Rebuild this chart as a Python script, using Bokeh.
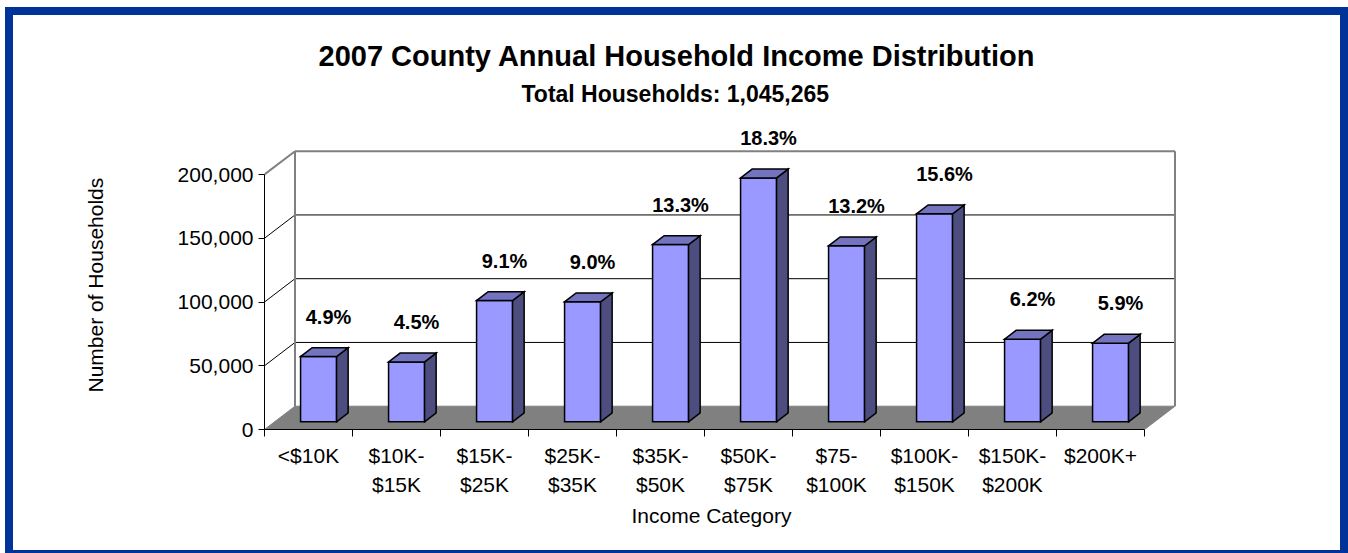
from bokeh.plotting import figure
from bokeh.models import Range1d, FixedTicker, NumeralTickFormatter, Title
from bokeh.embed import file_html
from bokeh.resources import INLINE
from bokeh.core.properties import value

# ---------------- data ----------------
categories = ["<$10K", "$10K-\n$15K", "$15K-\n$25K", "$25K-\n$35K", "$35K-\n$50K",
              "$50K-\n$75K", "$75-\n$100K", "$100K-\n$150K", "$150K-\n$200K", "$200K+"]
households = [51200, 47000, 95100, 94100, 139000, 191300, 138000, 163100, 64800, 61700]
pct_labels = ["4.9%", "4.5%", "9.1%", "9.0%", "13.3%", "18.3%", "13.2%", "15.6%", "6.2%", "5.9%"]
y_ticks = [0, 50000, 100000, 150000, 200000]

title_text = "2007 County Annual Household Income Distribution"
subtitle_text = "Total Households: 1,045,265"
x_title = "Income Category"
y_title = "Number of Households"

# ---------------- geometry (pixels -> data) ----------------
FONT = "Liberation Sans"
N = len(categories)
PX_PER_CAT = 88.0
PX_PER_Y = 255.0 / 200000.0
FRAME_W, FRAME_H = 926, 309
DX = 30.5 / PX_PER_CAT          # depth offset (x) of back wall
DY = 23.3 / PX_PER_Y            # depth offset (y) of back wall
F0, F1 = 0.33, 0.71             # bar front/back depth fractions
HW = 18.0 / PX_PER_CAT          # bar half width
LBL_DX = 20.0 / PX_PER_CAT
LBL_DY = 40.0 / PX_PER_Y
YMAX = y_ticks[-1]

p = figure(width=1327, height=535, title=None, toolbar_location=None,
           output_backend="svg",
           x_range=Range1d(0, FRAME_W / PX_PER_CAT),
           y_range=Range1d(0, FRAME_H / PX_PER_Y),
           min_border_left=251, min_border_right=166,
           min_border_top=105, min_border_bottom=132)
p.background_fill_color = "white"
p.border_fill_color = "white"
p.outline_line_color = None
p.xgrid.visible = False
p.ygrid.visible = False
p.styles = {"box-sizing": "content-box", "border-style": "solid",
            "border-color": "#003399", "border-width": "8px 8px 3px 8px",
            "margin-left": "5px", "margin-top": "7px"}

# floor
p.patch([0, N, N + DX, DX], [0, 0, DY, DY], fill_color="#808080", line_color="#808080")

# back-wall gridlines
inner = y_ticks[1:-1]
p.multi_line([[DX, N + DX] for v in inner], [[v + DY, v + DY] for v in inner],
             line_color="black", line_width=1)
# side-wall gridlines
p.multi_line([[0, DX] for v in inner], [[v, v + DY] for v in inner],
             line_color="black", line_width=1)
# wall outlines
p.multi_line([[DX, N + DX], [DX, DX], [N + DX, N + DX], [0, DX]],
             [[YMAX + DY, YMAX + DY], [DY, YMAX + DY], [DY, YMAX + DY], [YMAX, YMAX + DY]],
             line_color="#808080", line_width=2)

# bars
fx, fy, sx, sy, tx, ty = [], [], [], [], [], []
for i, v in enumerate(households):
    c = i + 0.5
    l0, r0 = c - HW + F0 * DX, c + HW + F0 * DX
    l1, r1 = c - HW + F1 * DX, c + HW + F1 * DX
    b0, b1 = F0 * DY, F1 * DY
    fx.append([l0, r0, r0, l0]); fy.append([b0, b0, v + b0, v + b0])
    sx.append([r0, r1, r1, r0]); sy.append([b0, b1, v + b1, v + b0])
    tx.append([l0, r0, r1, l1]); ty.append([v + b0, v + b0, v + b1, v + b1])
for xs, ys, col in ((fx, fy, "#9999FF"), (sx, sy, "#4D4D80"), (tx, ty, "#7373C0")):
    p.patches(xs, ys, fill_color=col, line_color="black", line_width=1.5, line_join="miter")

# percentage labels
p.text(x=[i + 0.5 + LBL_DX for i in range(N)],
       y=[v + F0 * DY + LBL_DY for v in households],
       text=pct_labels, text_font=value(FONT), text_font_style="bold",
       text_font_size="20px", text_align="center", text_baseline="middle",
       text_color="black")

# axes
xa = p.xaxis[0]
xa.ticker = FixedTicker(ticks=[i + 0.5 for i in range(N)], minor_ticks=list(range(N + 1)))
xa.major_label_overrides = {i + 0.5: categories[i] for i in range(N)}
xa.bounds = (0, N)
xa.axis_line_color = "black"
xa.major_tick_line_color = None
xa.major_tick_in = 0
xa.major_tick_out = 7
xa.minor_tick_line_color = "black"
xa.minor_tick_in = 0
xa.minor_tick_out = 7
xa.major_label_standoff = 7
xa.major_label_text_font = FONT
xa.major_label_text_font_size = "21px"
xa.major_label_text_color = "black"
xa.major_label_text_line_height = 1.3

ya = p.yaxis[0]
ya.ticker = FixedTicker(ticks=y_ticks, minor_ticks=[])
ya.formatter = NumeralTickFormatter(format="0,0")
ya.bounds = (0, YMAX)
ya.axis_line_color = "black"
ya.major_tick_line_color = "black"
ya.major_tick_in = 0
ya.major_tick_out = 6
ya.minor_tick_line_color = None
ya.major_label_standoff = 5
ya.major_label_text_font = FONT
ya.major_label_text_font_size = "21px"
ya.major_label_text_color = "black"

# axis titles (as side titles so they sit where the reference has them)
p.add_layout(Title(text=x_title, text_font=FONT, text_font_size="21px",
                   text_font_style="normal", text_color="black", align="left",
                   offset=367, standoff=5), "below")
p.add_layout(Title(text=y_title, text_font=FONT, text_font_size="21px",
                   text_font_style="normal", text_color="black", align="left",
                   offset=37, standoff=136), "left")

# titles
p.add_layout(Title(text=subtitle_text, text_font=FONT, text_font_size="23px",
                   text_font_style="bold", text_color="black", align="left",
                   offset=257, standoff=27), "above")
p.add_layout(Title(text=title_text, text_font=FONT, text_font_size="29px",
                   text_font_style="bold", text_color="black", align="left",
                   offset=54, standoff=-13), "above")

open("out.html", "w").write(file_html(p, INLINE))
